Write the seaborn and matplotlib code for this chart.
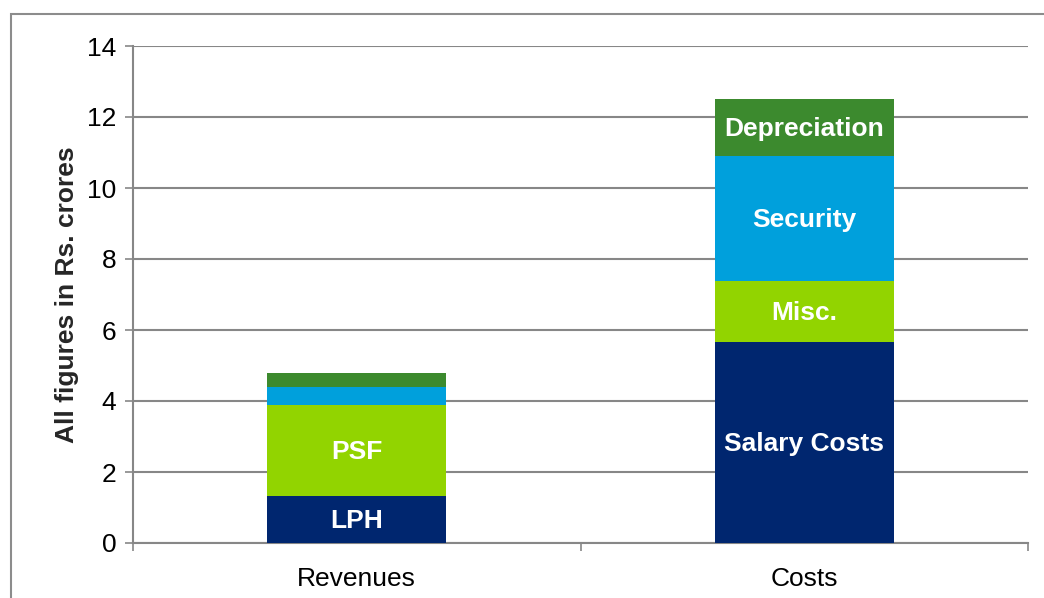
import numpy as np
import pandas as pd
import matplotlib
matplotlib.use("Agg")
import matplotlib.pyplot as plt
import seaborn as sns
from matplotlib.patches import Rectangle

categories = ["Revenues", "Costs"]
level1 = [1.32, 5.65]   # LPH / Salary Costs
level2 = [2.57, 1.74]   # PSF / Misc.
level3 = [0.51, 3.51]   # (unlabelled) / Security
level4 = [0.38, 1.60]   # (unlabelled) / Depreciation
labels1 = ["LPH", "Salary Costs"]
labels2 = ["PSF", "Misc."]
labels3 = ["", "Security"]
labels4 = ["", "Depreciation"]
colors = ["#00266F", "#92D400", "#00A0DC", "#3C8A2E"]
yticks = [0, 2, 4, 6, 8, 10, 12, 14]

sns.set_theme(style="white")
plt.rcParams["font.family"] = ["Liberation Sans", "DejaVu Sans"]

levels = [level1, level2, level3, level4]
seg_labels = [labels1, labels2, labels3, labels4]
cum = np.cumsum(np.array(levels), axis=0)

fig = plt.figure(figsize=(10.44, 5.98), dpi=100)
ax = fig.add_axes([133 / 1044, 1 - 543 / 598, (1028 - 133) / 1044, (543 - 46) / 598])

# outer border
fig.patches.append(Rectangle((11 / 1044, -0.1), 1.2, 1 - 14 / 598 + 0.1,
                             transform=fig.transFigure, fill=False,
                             edgecolor="#8C8C8C", linewidth=1.5, zorder=0))

for i in range(len(levels) - 1, -1, -1):
    df = pd.DataFrame({"cat": categories, "val": cum[i]})
    sns.barplot(data=df, x="cat", y="val", order=categories, color=colors[i],
                saturation=1, width=0.4, ax=ax, zorder=3, edgecolor="none")

FS = 19
for i in range(len(levels)):
    for j, cat in enumerate(categories):
        lab = seg_labels[i][j]
        if lab:
            bottom = cum[i][j] - levels[i][j]
            ax.text(j, bottom + levels[i][j] / 2 - 0.05, lab, ha="center", va="center",
                    color="white", fontsize=FS, fontweight="bold", zorder=5)

ax.set_xlim(-0.5, 1.5)
ax.set_ylim(0, 14)
ax.set_yticks(yticks)
ax.set_yticklabels([str(v) for v in yticks], fontsize=FS)
ax.set_xticks([0, 1])
ax.set_xticklabels(categories, fontsize=FS)
ax.set_xlabel("")
ax.set_ylabel("All figures in Rs. crores", fontsize=FS, fontweight="bold", labelpad=6)

ax.grid(axis="y", color="#878787", linewidth=1.5, zorder=0)
ax.set_axisbelow(True)
for s in ["top", "right"]:
    ax.spines[s].set_visible(False)
for s in ["left", "bottom"]:
    ax.spines[s].set_color("#878787")
    ax.spines[s].set_linewidth(1.5)

# ticks: y ticks outward to the left, x ticks at category boundaries
ax.tick_params(axis="y", which="major", left=True, length=6, width=1.2,
               color="#878787", pad=6)
ax.tick_params(axis="x", which="major", bottom=False, pad=11)
ax.set_xticks([-0.5, 0.5, 1.5], minor=True)
ax.tick_params(axis="x", which="minor", bottom=True, length=6, width=1.2,
               color="#878787")
for t in ax.get_yticklabels() + ax.get_xticklabels():
    t.set_color("black")

fig.savefig("out.png", dpi=100)
